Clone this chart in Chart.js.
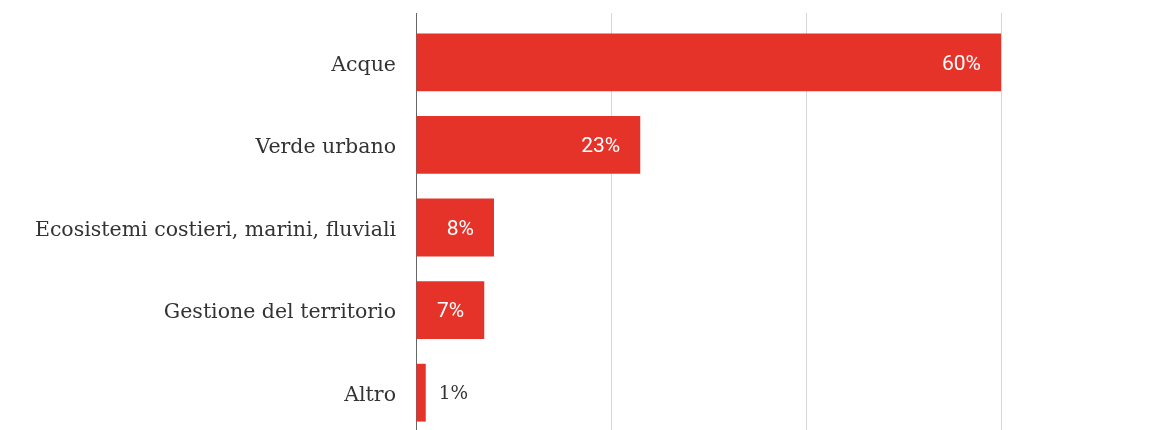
<!DOCTYPE html>
<html>
<head>
<meta charset="utf-8">
<script src="https://cdn.jsdelivr.net/npm/chart.js@4/dist/chart.umd.min.js"></script>
<style>
  html, body { margin: 0; padding: 0; background: #fff; overflow: hidden; }
  #wrap { width: 1196px; height: 434px; }
</style>
</head>
<body>
<div id="wrap"><canvas id="chart" width="1196" height="434"></canvas></div>
<script>
// --- dati ---
const categorie = ['Acque', 'Verde urbano', 'Ecosistemi costieri, marini, fluviali', 'Gestione del territorio', 'Altro'];
const percentuali = [60, 23, 8, 7, 1];
const tickX = [0, 20, 40, 60, 80];

const ROSSO = '#e5332a';
const TESTO = '#333333';
const FONT_SERIF = '"DejaVu Serif", serif';
const FONT_SANS = 'Roboto, "Open Sans", sans-serif';

// etichette % sulle barre: dentro se ci stanno, altrimenti fuori
const etichettePlugin = {
    id: 'etichette',
    afterDatasetsDraw(chart) {
        const ctx = chart.ctx;
        const meta = chart.getDatasetMeta(0);
        ctx.save();
        ctx.textBaseline = 'middle';
        meta.data.forEach((bar, i) => {
            const txt = percentuali[i] + '%';
            const larghezza = bar.x - bar.base;
            ctx.font = '21px ' + FONT_SANS;
            const w = ctx.measureText(txt).width;
            if (w + 40 < larghezza) {
                ctx.fillStyle = '#ffffff';
                ctx.textAlign = 'right';
                ctx.fillText(txt, bar.x - 20, bar.y + 2);
            } else {
                ctx.font = '18.5px ' + FONT_SERIF;
                ctx.fillStyle = TESTO;
                ctx.textAlign = 'left';
                ctx.fillText(txt, bar.x + 13, bar.y + 1);
            }
        });
        ctx.restore();
    }
};

const ctx = document.getElementById('chart');
new Chart(ctx, {
    type: 'bar',
    data: {
        labels: categorie,
        datasets: [{
            data: percentuali,
            backgroundColor: ROSSO,
            borderWidth: 0,
            categoryPercentage: 1,
            barPercentage: 0.7
        }]
    },
    options: {
        indexAxis: 'y',
        responsive: false,
        animation: false,
        layout: { padding: { top: 13, left: 0, right: 0, bottom: 0 } },
        plugins: { legend: { display: false }, tooltip: { enabled: false } },
        scales: {
            x: {
                position: 'top',
                min: tickX[0],
                max: tickX[tickX.length - 1],
                afterBuildTicks: (scale) => { scale.ticks = tickX.map(v => ({ value: v })); },
                ticks: { display: false },
                grid: {
                    color: (c) => (c.tick && c.tick.value === 0) ? '#666666' : '#d6d6d6',
                    lineWidth: 1,
                    drawTicks: true,
                    tickLength: 8
                },
                border: { display: false }
            },
            y: {
                afterFit: (scale) => {
                    scale.width = 416;
                    scale.paddingTop = 0;
                    scale.paddingBottom = 0;
                },
                grid: { display: false, drawTicks: false },
                border: { display: true, color: '#666666', width: 1 },
                ticks: {
                    padding: 20,
                    labelOffset: 3,
                    color: TESTO,
                    font: { family: FONT_SERIF, size: 20.5 }
                }
            }
        }
    },
    plugins: [etichettePlugin]
});
</script>
</body>
</html>
